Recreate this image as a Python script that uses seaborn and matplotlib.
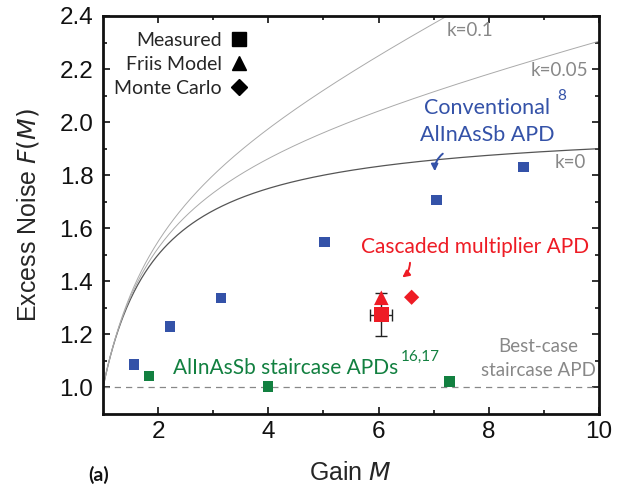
import numpy as np
import pandas as pd
import matplotlib
matplotlib.use("Agg")
import matplotlib.pyplot as plt
import seaborn as sns
from matplotlib.lines import Line2D

# ---- data ----
conv_gain = [1.56, 2.22, 3.14, 5.02, 7.05, 8.63]
conv_F = [1.087, 1.230, 1.336, 1.547, 1.706, 1.830]
stair_gain = [1.84, 4.00, 7.29]
stair_F = [1.042, 1.004, 1.023]
meas_gain = [6.05]
meas_F = [1.275]
meas_xerr = [0.2]
meas_yerr = [0.08]
friis_gain = [6.05]
friis_F = [1.338]
mc_gain = [6.60]
mc_F = [1.340]
k_values = [0.0, 0.05, 0.1]
k_colors = ["#555555", "#aaaaaa", "#aaaaaa"]
k_widths = [0.9, 0.7, 0.7]

sns.set_theme(style="ticks")
plt.rcParams["font.family"] = ["Liberation Sans", "DejaVu Sans"]
ann_font = ["Lato", "DejaVu Sans"]

fig = plt.figure(figsize=(6.23, 4.91), dpi=100)
ax = fig.add_axes([103/623, 1-414/491, (599-103)/623, (414-16)/491])

# McIntyre curves
M = np.linspace(1, 10, 400)
for k, c, lw in zip(k_values, k_colors, k_widths):
    F = k*M + (1-k)*(2-1/M)
    sns.lineplot(x=M, y=F, ax=ax, color=c, lw=lw, legend=False)

ax.axhline(1.0, color="#888888", lw=0.9, ls=(0, (5, 4)))

blue = "#3452a8"
green = "#128040"
red = "#ee1c25"

sns.scatterplot(x=conv_gain, y=conv_F, ax=ax, marker="s", s=55, color=blue, edgecolor="none", zorder=5)
sns.scatterplot(x=stair_gain, y=stair_F, ax=ax, marker="s", s=55, color=green, edgecolor="none", zorder=5)
ax.errorbar(meas_gain, meas_F, xerr=meas_xerr, yerr=meas_yerr, fmt="none",
            ecolor="#222222", elinewidth=1.0, capsize=4, capthick=1.0, zorder=4)
sns.scatterplot(x=meas_gain, y=meas_F, ax=ax, marker="s", s=110, color=red, edgecolor="none", zorder=6)
sns.scatterplot(x=friis_gain, y=friis_F, ax=ax, marker="^", s=110, color=red, edgecolor="none", zorder=6)
sns.scatterplot(x=mc_gain, y=mc_F, ax=ax, marker="D", s=60, color=red, edgecolor="none", zorder=6)

ax.set_xlim(1, 10)
ax.set_ylim(0.9, 2.4)
ax.set_xticks([2, 4, 6, 8, 10])
ax.set_xticks([3, 5, 7, 9], minor=True)
ax.set_yticks([1.0, 1.2, 1.4, 1.6, 1.8, 2.0, 2.2, 2.4])
ax.set_yticks(np.arange(1.1, 2.4, 0.2), minor=True)
ax.set_yticklabels(["1.0", "1.2", "1.4", "1.6", "1.8", "2.0", "2.2", "2.4"])
ax.tick_params(which="both", direction="in", top=True, right=True, width=1.2, labelsize=17.5, colors="#111111")
ax.tick_params(axis="x", which="both", pad=5)
ax.tick_params(axis="y", which="both", pad=7)
ax.tick_params(which="major", length=5)
ax.tick_params(which="minor", length=3)
for sp in ax.spines.values():
    sp.set_linewidth(2)
    sp.set_color("#111111")

ax.set_xlabel("Gain $M$", fontsize=18)
ax.set_ylabel("Excess Noise $F(M)$", fontsize=18)
ax.xaxis.set_label_coords(0.498, -0.118)
ax.yaxis.set_label_coords(-0.125, 0.5)

# legend
handles = [Line2D([], [], marker="s", ls="none", color="black", markersize=10),
           Line2D([], [], marker="^", ls="none", color="black", markersize=10),
           Line2D([], [], marker="D", ls="none", color="black", markersize=8)]
leg = ax.legend(handles, ["Measured", "Friis Model", "Monte Carlo"], loc="upper left",
                bbox_to_anchor=(-0.005, 0.995), markerfirst=False, frameon=False,
                prop={"family": ann_font, "size": 14}, labelspacing=0.37,
                handlelength=1.0, handletextpad=0.4, borderpad=0.2)
for t in leg.get_texts():
    t.set_ha("right")
leg._legend_box.align = "right"

gray = "#888888"

def T(x, y, s, **kw):
    ax.text(x/623, 1-y/491, s, transform=fig.transFigure, family=ann_font, **kw)

# curve labels
T(470, 31, "k=0.1", fontsize=13.5, color=gray, ha="center", va="center")
T(588, 70, "k=0.05", fontsize=13.5, color=gray, ha="right", va="center")
T(586, 163, "k=0", fontsize=13.5, color=gray, ha="right", va="center")

T(487, 108, "Conventional", fontsize=15.5, color=blue, ha="center", va="center")
T(487, 135, "AlInAsSb APD", fontsize=15.5, color=blue, ha="center", va="center")
T(562, 96, "8", fontsize=11, color=blue, ha="center", va="center")
T(475, 247, "Cascaded multiplier APD", fontsize=15, color=red, ha="center", va="center")
T(173, 368, "AlInAsSb staircase APDs", fontsize=15, color=green, ha="left", va="center")
T(401, 357, "16,17", fontsize=11, color=green, ha="left", va="center")
T(538, 347, "Best-case", fontsize=13.5, color=gray, ha="center", va="center")
T(538, 370, "staircase APD", fontsize=13.5, color=gray, ha="center", va="center")
T(99, 475, "(a)", fontsize=14, fontweight="bold", color="#111111", ha="center", va="center")

# arrows
ax.annotate("", xy=(435/623, 1-174/491), xytext=(445/623, 1-152/491),
            xycoords="figure fraction", textcoords="figure fraction",
            arrowprops=dict(arrowstyle="-|>", color=blue, lw=1.4, connectionstyle="arc3,rad=0.3",
                            mutation_scale=10))
ax.annotate("", xy=(400/623, 1-279/491), xytext=(410/623, 1-260/491),
            xycoords="figure fraction", textcoords="figure fraction",
            arrowprops=dict(arrowstyle="-|>", color=red, lw=1.4, connectionstyle="arc3,rad=-0.3",
                            mutation_scale=10))

fig.savefig("out.png", dpi=100)
